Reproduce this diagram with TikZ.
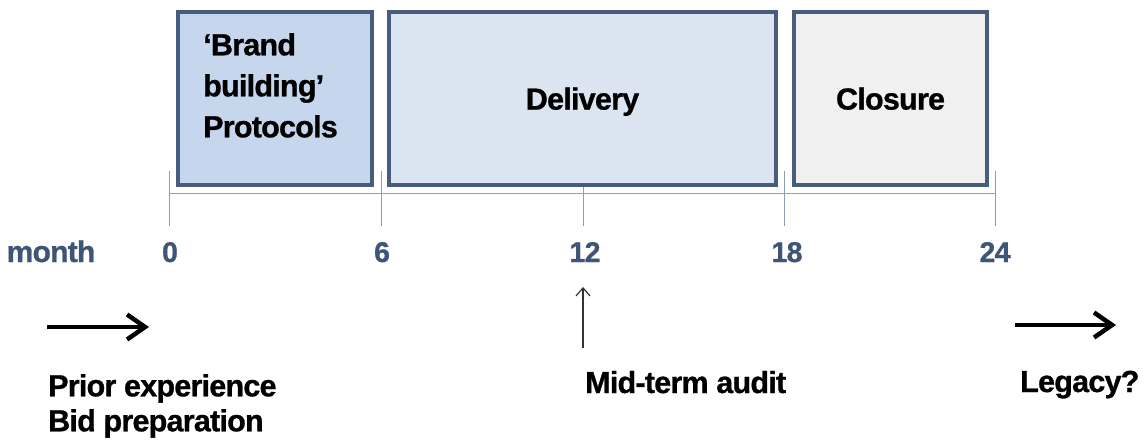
\documentclass[tikz,border=0pt]{standalone}
\usepackage{fontspec}
\setmainfont[LetterSpace=-2.5,BoldFeatures={FakeBold=0.9}]{Liberation Sans}
\usetikzlibrary{arrows.meta}
\definecolor{bordc}{HTML}{485D7E}
\definecolor{fillA}{HTML}{C6D6EC}
\definecolor{fillB}{HTML}{DBE4F1}
\definecolor{fillC}{HTML}{F0F0F0}
\definecolor{axisc}{HTML}{8C9DB8}
\definecolor{numc}{HTML}{3F5578}
\begin{document}
\begin{tikzpicture}[x=1pt,y=-1pt,
  phase/.style={draw=bordc,line width=3.4pt,rectangle,inner sep=0pt,minimum height=173pt},
  lbl/.style={font=\fontsize{30.5}{35}\selectfont\bfseries,inner sep=0pt,text=black},
  num/.style={font=\fontsize{28.5}{30}\selectfont\bfseries,inner sep=0pt,text=numc,anchor=base},
  tickl/.style={draw=axisc,line width=1pt},
  bigarrow/.style={line width=4.5pt,-{Straight Barb[length=18pt,width=25pt,line width=4.5pt]}},
  smallarrow/.style={line width=1.2pt,draw=black!80,-{Straight Barb[length=8pt,width=14pt,line width=1.2pt]}}]
\useasboundingbox (0,0) rectangle (1144,440);
% axis
\coordinate (t0) at (169,193);
\coordinate (t6) at (381,193);
\coordinate (t12) at (583,193);
\coordinate (t18) at (784,193);
\coordinate (t24) at (995,193);
\draw[tickl] (t0) -- (t24);
\foreach \t in {t0,t6,t12,t18,t24}{
  \draw[tickl] ([yshift=-33pt]\t) -- ([yshift=22pt]\t);
}
% boxes
\node[phase,fill=fillA,minimum width=194pt] (brand) at (275,98.5) {};
\node[phase,fill=fillB,minimum width=387pt,lbl,text depth=0pt] (deliv) at (582.5,98.5) {Delivery};
\node[phase,fill=fillC,minimum width=193pt,lbl,text depth=0pt] (clos) at (890.5,98.5) {Closure};
\node[lbl,anchor=north west,align=left,font=\fontsize{30.5}{41}\selectfont\bfseries] (brandtxt) at (203,33) {‘Brand\\building’\\Protocols};
% axis labels
\node[num,font=\fontsize{30}{30}\selectfont\bfseries] (month) at (51,262) {month};
\node[num] (n0) at (170,262) {0};
\node[num] (n6) at (382,262) {6};
\node[num] (n12) at (585,262) {12};
\node[num] (n18) at (787,262) {18};
\node[num] (n24) at (995,262) {24};
% arrows
\coordinate (la1) at (47,327);
\coordinate (la2) at (149,327);
\draw[bigarrow] (la1) -- (la2);
\coordinate (ra1) at (1015,325);
\coordinate (ra2) at (1116,325);
\draw[bigarrow] (ra1) -- (ra2);
\coordinate (ma1) at (583,348);
\coordinate (ma2) at (583,287);
\draw[smallarrow] (ma1) -- (ma2);
% bottom labels
\node[lbl,anchor=north west,align=left] (prior) at (48,374) {Prior experience\\Bid preparation};
\node[lbl,anchor=base west] (mid) at (585,393) {Mid-term audit};
\node[lbl,anchor=base west] (legacy) at (1020,392) {Legacy?};
\end{tikzpicture}
\end{document}
